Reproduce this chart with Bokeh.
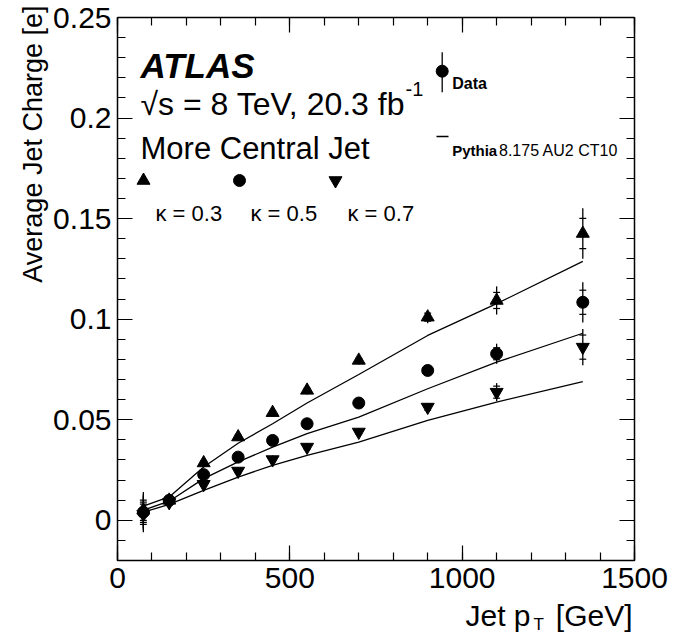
import numpy as np
from bokeh.plotting import figure
from bokeh.models import (Range1d, FixedTicker, NumeralTickFormatter, LinearAxis,
                          Label, ColumnDataSource, CustomLabelingPolicy)
from bokeh.embed import file_html
from bokeh.resources import INLINE

# ---------------- data ----------------
jet_pt = [75, 150, 250, 350, 450, 550, 700, 900, 1100, 1350]

data_k03 = [0.005, 0.0099, 0.0285, 0.0414, 0.0535, 0.0646, 0.0795, 0.1010, 0.1093, 0.1426]
data_k05 = [0.004, 0.0099, 0.0227, 0.0314, 0.0397, 0.0480, 0.0583, 0.0745, 0.0828, 0.1084]
data_k07 = [0.003, 0.0089, 0.0179, 0.0245, 0.0302, 0.0364, 0.0439, 0.0563, 0.0637, 0.0861]

tot_k03 = [0.009, 0.002, 0.002, 0.002, 0.002, 0.002, 0.002, 0.003, 0.007, 0.0125]
tot_k05 = [0.009, 0.002, 0.002, 0.002, 0.002, 0.002, 0.002, 0.002, 0.005, 0.010]
tot_k07 = [0.009, 0.002, 0.003, 0.002, 0.002, 0.002, 0.002, 0.002, 0.0045, 0.009]

stat_k03 = [0.005, 0.001, 0.001, 0.001, 0.001, 0.001, 0.001, 0.002, 0.004, 0.0075]
stat_k05 = [0.005, 0.001, 0.001, 0.001, 0.001, 0.001, 0.001, 0.002, 0.003, 0.006]
stat_k07 = [0.005, 0.001, 0.001, 0.001, 0.001, 0.001, 0.001, 0.0015, 0.003, 0.006]

mc_k03 = [0.007, 0.0116, 0.0265, 0.0383, 0.0480, 0.0583, 0.0725, 0.0919, 0.1077, 0.1287]
mc_k05 = [0.005, 0.0095, 0.0207, 0.0290, 0.0364, 0.0431, 0.0513, 0.0654, 0.0786, 0.0930]
mc_k07 = [0.004, 0.0079, 0.0149, 0.0215, 0.0273, 0.0323, 0.0389, 0.0497, 0.0588, 0.0690]

x_major = [0, 500, 1000, 1500]
y_major = [0, 0.05, 0.1, 0.15, 0.2, 0.25]

# ---------------- layout ----------------
FONT = "Liberation Sans"
W, H = 682, 633
PL, PR, PT, PB = 117, 634, 17, 560      # plotting box (pixels) inside the canvas
X0, X1 = 0, 1500
Y0, Y1 = -0.02, 0.25
SX = (X1 - X0) / (PR - PL)
SY = (Y1 - Y0) / (PB - PT)


def dx(px):
    return X0 + (px - PL) * SX


def dy(py):
    return Y1 - (py - PT) * SY


p = figure(width=W, height=H, output_backend="svg", toolbar_location=None, title=None,
           x_range=Range1d(dx(0), dx(W)), y_range=Range1d(dy(H), dy(0)),
           min_border=0, background_fill_color="white", border_fill_color="white")
p.outline_line_color = None
p.xgrid.visible = False
p.ygrid.visible = False

x_ticker = FixedTicker(ticks=x_major, minor_ticks=list(range(0, 1501, 100)))
y_ticker = FixedTicker(ticks=y_major,
                       minor_ticks=[round(-0.02 + 0.01 * i, 2) for i in range(28)])

no_labels = CustomLabelingPolicy(code="""
for (const i of indices)
    indices.unset(i)
""")


def style_axis(ax, show_labels):
    ax.axis_line_color = "black"
    ax.axis_line_width = 1.5
    ax.major_tick_in = 15
    ax.major_tick_out = 0
    ax.minor_tick_in = 8
    ax.minor_tick_out = 0
    ax.major_tick_line_color = "black"
    ax.minor_tick_line_color = "black"
    ax.major_tick_line_width = 1.2
    ax.minor_tick_line_width = 1.2
    ax.axis_label = None
    if show_labels:
        ax.major_label_text_font = FONT
        ax.major_label_text_font_size = "30px"
        ax.major_label_text_color = "black"
    else:
        ax.major_label_policy = no_labels


xa = p.xaxis[0]
xa.ticker = x_ticker
xa.formatter = NumeralTickFormatter(format="0")
xa.major_label_standoff = 7
xa.fixed_location = Y0
xa.bounds = (X0, X1)
style_axis(xa, True)

ya = p.yaxis[0]
ya.ticker = y_ticker
ya.formatter = NumeralTickFormatter(format="0.[00]")
ya.major_label_standoff = 6
ya.fixed_location = X0
ya.bounds = (Y0, Y1)
style_axis(ya, True)

top_ax = LinearAxis(ticker=x_ticker, fixed_location=Y1, bounds=(X0, X1))
style_axis(top_ax, False)
p.add_layout(top_ax, "above")
right_ax = LinearAxis(ticker=y_ticker, fixed_location=X1, bounds=(Y0, Y1))
style_axis(right_ax, False)
p.add_layout(right_ax, "right")

# ---------------- MC lines ----------------
for mc in (mc_k03, mc_k05, mc_k07):
    p.line(jet_pt, mc, line_color="black", line_width=1.3)

# ---------------- data points ----------------
CAP = 10  # half width of stat error ticks in GeV
series = [
    (data_k03, tot_k03, stat_k03, "triangle", 13),
    (data_k05, tot_k05, stat_k05, "circle", 12),
    (data_k07, tot_k07, stat_k07, "inverted_triangle", 13),
]
for vals, tot, stat, marker, size in series:
    x = np.array(jet_pt, dtype=float)
    v = np.array(vals)
    t = np.array(tot)
    s = np.array(stat)
    src = ColumnDataSource(dict(x=x, y=v, lo=v - t, hi=v + t,
                                slo=v - s, shi=v + s, xl=x - CAP, xr=x + CAP))
    p.segment(x0="x", y0="lo", x1="x", y1="hi", source=src, line_color="black", line_width=1.3)
    p.segment(x0="xl", y0="slo", x1="xr", y1="slo", source=src, line_color="black", line_width=1.2)
    p.segment(x0="xl", y0="shi", x1="xr", y1="shi", source=src, line_color="black", line_width=1.2)
    p.scatter("x", "y", source=src, marker=marker, size=size,
              fill_color="black", line_color="black")


# ---------------- legend / texts ----------------
def label(px, py, text, size, style="normal", align="left", angle=0):
    p.add_layout(Label(x=dx(px), y=dy(py), text=text, text_font=FONT,
                       text_font_size=f"{size}px", text_font_style=style,
                       text_align=align, text_baseline="alphabetic",
                       text_color="black", angle=angle))


label(140, 65, "ATLAS", 35, "bold italic")
label(140, 103, "\u221as = 8 TeV, 20.3 fb", 32)
label(405, 88, "-1", 20)
label(140, 148, "More Central Jet", 31)

leg_markers = [(143, "triangle", 13), (239, "circle", 12), (335, "inverted_triangle", 13)]
for px, marker, size in leg_markers:
    p.scatter([dx(px)], [dy(180)], marker=marker, size=size,
              fill_color="black", line_color="black")
label(155, 213, "\u03ba = 0.3", 22)
label(250, 213, "\u03ba = 0.5", 22)
label(347, 213, "\u03ba = 0.7", 22)

# Data legend entry
p.segment(x0=[dx(441.7)], y0=[dy(51.7)], x1=[dx(441.7)], y1=[dy(91.7)],
          line_color="black", line_width=1.3)
p.scatter([dx(441.7)], [dy(70.7)], marker="circle", size=12,
          fill_color="black", line_color="black")
label(451.7, 83, "Data", 16, "bold")

# MC legend entry
p.segment(x0=[dx(436)], y0=[dy(136)], x1=[dx(448)], y1=[dy(136)],
          line_color="black", line_width=1.3)
label(451.7, 150, "Pythia", 15, "bold")
label(498.5, 150, "8.175 AU2 CT10", 16)

# axis titles
label(32, 5, "Average Jet Charge [e]", 27, align="right", angle=np.pi / 2)
label(530, 615, "Jet p", 30, align="right")
label(533, 624, "T", 17)
label(632, 615, "[GeV]", 30, align="right")

open("out.html", "w").write(file_html(p, INLINE))
